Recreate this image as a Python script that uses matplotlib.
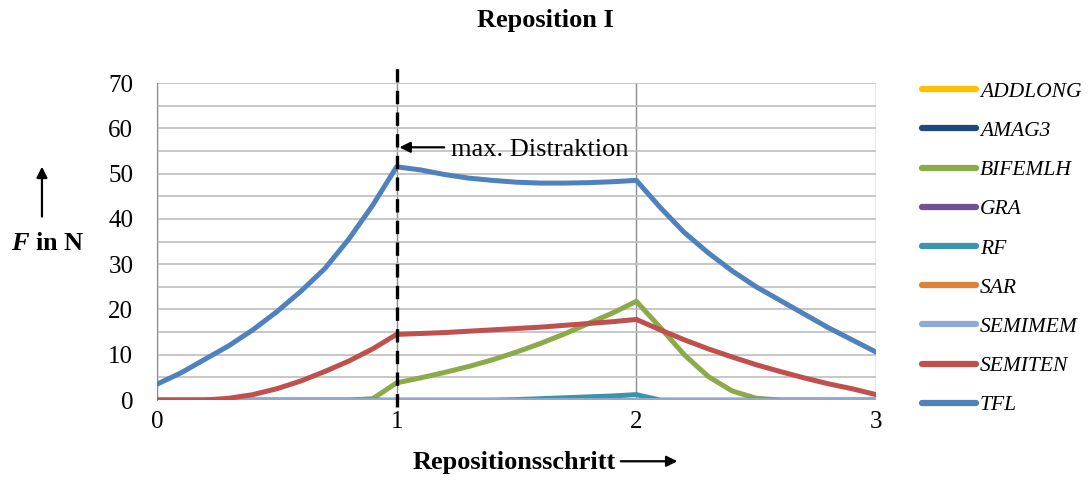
"""Reposition I: muscle force per reposition step."""

import matplotlib
matplotlib.use("Agg")
import matplotlib.pyplot as plt
from matplotlib.patches import FancyArrowPatch
from matplotlib.ticker import MultipleLocator

plt.rcParams['font.family'] = ['Liberation Serif', 'DejaVu Serif']
plt.rcParams['mathtext.fontset'] = 'custom'
plt.rcParams['mathtext.bfit'] = 'Liberation Serif:bold:italic'

# x positions (reposition step, 0.1 increments)
steps = [i / 10 for i in range(31)]

addlong = [0.0] * 31
amag3 = [0.0] * 31
gra = [0.0] * 31
sar = [0.0] * 31
semimem = [0.0] * 31
bifemlh = [0, 0, 0, 0, 0, 0, 0, 0, 0, 0.3, 3.8,
           4.9, 6.1, 7.4, 8.9, 10.6, 12.5, 14.6, 16.9, 19.2, 21.8,
           16.0, 10.0, 5.2, 2.0, 0.4, 0, 0, 0, 0, 0]
rf = [0, 0, 0, 0, 0, 0, 0, 0, 0, 0, 0,
      0, 0, 0, 0, 0.1, 0.3, 0.5, 0.7, 0.9, 1.2,
      0, 0, 0, 0, 0, 0, 0, 0, 0, 0]
semiten = [0, 0, 0, 0.4, 1.2, 2.5, 4.2, 6.3, 8.6, 11.3, 14.5,
           14.7, 14.9, 15.2, 15.5, 15.8, 16.1, 16.5, 16.9, 17.3, 17.8,
           15.5, 13.3, 11.3, 9.5, 7.8, 6.3, 4.9, 3.6, 2.5, 1.2]
tfl = [3.5, 6.0, 9.0, 12.0, 15.5, 19.5, 24.0, 29.0, 35.5, 43.0, 51.5,
       50.8, 49.8, 49.0, 48.5, 48.1, 47.9, 47.9, 48.0, 48.2, 48.5,
       42.5, 37.0, 32.5, 28.5, 25.0, 22.0, 19.0, 16.0, 13.3, 10.6]

series = [
    ('ADDLONG', addlong, '#FFC000'),
    ('AMAG3', amag3, '#1F497D'),
    ('BIFEMLH', bifemlh, '#8BAA4A'),
    ('GRA', gra, '#6E5294'),
    ('RF', rf, '#3A95AB'),
    ('SAR', sar, '#E08236'),
    ('SEMIMEM', semimem, '#8FAAD2'),
    ('SEMITEN', semiten, '#C0504D'),
    ('TFL', tfl, '#4F81BD'),
]

fig = plt.figure(figsize=(10.9, 4.82), dpi=100)
ax = fig.add_axes([0.144, 0.170, 0.6597, 0.6578])

for name, values, color in series:
    ax.plot(steps, values, color=color, linewidth=3.6, label=name,
            solid_capstyle='round', solid_joinstyle='round', zorder=3)

ax.set_xlim(0, 3)
ax.set_ylim(0, 70)
ax.xaxis.set_major_locator(MultipleLocator(1))
ax.yaxis.set_major_locator(MultipleLocator(10))
ax.yaxis.set_minor_locator(MultipleLocator(5))
ax.grid(axis='y', which='both', color='#BEBEBE', linewidth=1.2, zorder=0)
ax.grid(axis='x', which='major', color='#8C8C8C', linewidth=1.0, zorder=0)
for side in ('top', 'right', 'bottom'):
    ax.spines[side].set_visible(False)
ax.spines['left'].set_color('#8C8C8C')
ax.tick_params(axis='both', which='both', length=0, labelsize=18, pad=8)
ax.tick_params(axis='y', pad=17)

# dashed line at maximal distraction
ax.plot([1, 1], [-1.5, 74], color='black', linewidth=2.4,
        linestyle=(0, (4, 2.5)), clip_on=False, zorder=4)
ax.annotate('', xy=(1.0, 55.8), xytext=(1.21, 55.8),
            arrowprops=dict(arrowstyle='-|>', color='black', lw=1.6,
                            mutation_scale=16))
ax.text(1.225, 55.3, 'max. Distraktion', fontsize=19, va='center', ha='left')

fig.text(0.5, 0.957, 'Reposition I', fontsize=19, fontweight='bold',
         ha='center', va='center')

# y axis label with upward arrow
fig.text(0.0435, 0.495, r'$\bfit{F}$ in N', fontsize=19, fontweight='bold',
         ha='center', va='center')
fig.patches.append(FancyArrowPatch(
    (0.0385, 0.545), (0.0385, 0.66), transform=fig.transFigure,
    arrowstyle='-|>', mutation_scale=16, color='black', lw=1.6))

# x axis label with right arrow
fig.text(0.472, 0.04, 'Repositionsschritt', fontsize=19, fontweight='bold',
         ha='center', va='center')
fig.patches.append(FancyArrowPatch(
    (0.567, 0.043), (0.624, 0.043), transform=fig.transFigure,
    arrowstyle='-|>', mutation_scale=16, color='black', lw=1.6))

leg = fig.legend(loc='upper left', bbox_to_anchor=(0.828, 0.871),
                 frameon=False, handlelength=2.5, handletextpad=0.2,
                 labelspacing=0.89, prop={'style': 'italic', 'size': 15.5})
for line in leg.get_lines():
    line.set_linewidth(4.5)

fig.savefig('out.png', dpi=100)
